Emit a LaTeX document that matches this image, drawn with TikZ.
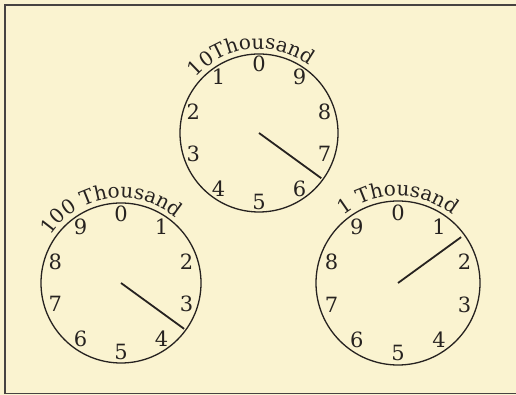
\documentclass[tikz,border=0pt]{standalone}
\usepackage{fontspec}
\setmainfont{DejaVu Serif}
\usetikzlibrary{decorations.text}
\definecolor{paper}{RGB}{250,243,208}
\definecolor{ink}{RGB}{38,34,32}
\newcommand{\dialfont}{\fontsize{21}{24}\selectfont}
\newcommand{\namefont}{\fontsize{20}{24}\selectfont}

\begin{document}
\begin{tikzpicture}[
            x=1pt, y=1pt,
            dial/.style={draw=ink, line width=1.3pt},
            digit/.style={text=ink, font=\dialfont, inner sep=0pt},
            hand/.style={draw=ink, line width=1.8pt},
            frame/.style={draw=ink!85, line width=1.8pt},
            dialname/.style={decorate, decoration={text along path, text align=center, text color=ink}}
        ]
            \fill[paper] (0,0) rectangle (516,395);
            \useasboundingbox (0,0) rectangle (516,395);
            \draw[frame] (516,390) -- (5,390) -- (5,1.5) -- (516,1.5);

            % 10 thousand dial
            \coordinate (tc) at (259,262);
            \draw[dial] (tc) circle[radius=79];
            \path[dialname, decoration={text={|\namefont|10Thousand}}] (tc) ++(156:84) arc[start angle=156, end angle=36, radius=84];
            \node[digit] (t0) at ([shift={(90:69)}]tc) {0};
            \node[digit] (t1) at ([shift={(126:69)}]tc) {1};
            \node[digit] (t2) at ([shift={(162:69)}]tc) {2};
            \node[digit] (t3) at ([shift={(198:69)}]tc) {3};
            \node[digit] (t4) at ([shift={(234:69)}]tc) {4};
            \node[digit] (t5) at ([shift={(270:69)}]tc) {5};
            \node[digit] (t6) at ([shift={(306:69)}]tc) {6};
            \node[digit] (t7) at ([shift={(342:69)}]tc) {7};
            \node[digit] (t8) at ([shift={(18:69)}]tc) {8};
            \node[digit] (t9) at ([shift={(54:69)}]tc) {9};
            \coordinate (th) at ([shift={(-36:77)}]tc);
            \draw[hand] (tc) -- (th);

            % 100 thousand dial
            \coordinate (lc) at (121,112);
            \draw[dial] (lc) circle[radius=80];
            \path[dialname, decoration={text={|\namefont|100 Thousand}}] (lc) ++(158:85) arc[start angle=158, end angle=38, radius=85];
            \node[digit] (l0) at ([shift={(90:69)}]lc) {0};
            \node[digit] (l1) at ([shift={(54:69)}]lc) {1};
            \node[digit] (l2) at ([shift={(18:69)}]lc) {2};
            \node[digit] (l3) at ([shift={(-18:69)}]lc) {3};
            \node[digit] (l4) at ([shift={(-54:69)}]lc) {4};
            \node[digit] (l5) at ([shift={(-90:69)}]lc) {5};
            \node[digit] (l6) at ([shift={(-126:69)}]lc) {6};
            \node[digit] (l7) at ([shift={(-162:69)}]lc) {7};
            \node[digit] (l8) at ([shift={(162:69)}]lc) {8};
            \node[digit] (l9) at ([shift={(126:69)}]lc) {9};
            \coordinate (lh) at ([shift={(-36:78)}]lc);
            \draw[hand] (lc) -- (lh);

            % 1 thousand dial
            \coordinate (rc) at (398,112);
            \draw[dial] (rc) circle[radius=82];
            \path[dialname, decoration={text={|\namefont|1 Thousand}}] (rc) ++(150:87) arc[start angle=150, end angle=30, radius=87];
            \node[digit] (r0) at ([shift={(90:70)}]rc) {0};
            \node[digit] (r1) at ([shift={(54:70)}]rc) {1};
            \node[digit] (r2) at ([shift={(18:70)}]rc) {2};
            \node[digit] (r3) at ([shift={(-18:70)}]rc) {3};
            \node[digit] (r4) at ([shift={(-54:70)}]rc) {4};
            \node[digit] (r5) at ([shift={(-90:70)}]rc) {5};
            \node[digit] (r6) at ([shift={(-126:70)}]rc) {6};
            \node[digit] (r7) at ([shift={(-162:70)}]rc) {7};
            \node[digit] (r8) at ([shift={(162:70)}]rc) {8};
            \node[digit] (r9) at ([shift={(126:70)}]rc) {9};
            \coordinate (rh) at ([shift={(36:78)}]rc);
            \draw[hand] (rc) -- (rh);
        \end{tikzpicture}
\end{document}
